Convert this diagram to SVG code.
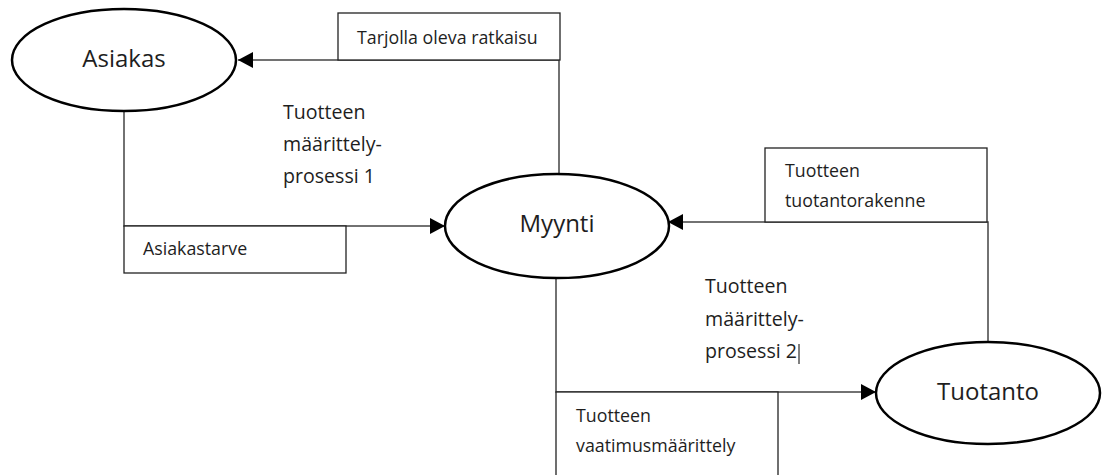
<svg xmlns="http://www.w3.org/2000/svg" width="1106" height="475" viewBox="0 0 1106 475">
  <defs>
    <marker id="arrow" markerUnits="userSpaceOnUse" markerWidth="15" markerHeight="16" refX="15" refY="8" orient="auto">
      <path d="M0,0 L15,8 L0,16 z" fill="#000"/>
    </marker>
    <style>
      .node { fill: #fff; stroke: #000; stroke-width: 2.5; }
      .box { fill: #fff; stroke: #222; stroke-width: 1.3; }
      .conn { fill: none; stroke: #444; stroke-width: 1.5; }
      .nlabel { font-family: "Open Sans", "Liberation Sans", sans-serif; font-size: 24px; fill: #1e1e1e; text-anchor: middle; }
      .blabel { font-family: "Open Sans", "Liberation Sans", sans-serif; font-size: 17.8px; fill: #1e1e1e; }
      .mlabel { font-family: "Open Sans", "Liberation Sans", sans-serif; font-size: 19.6px; fill: #1e1e1e; }
    </style>
  </defs>
  <rect width="1106" height="475" fill="#fff"/>

  <g id="connectors">
    <polyline class="conn" points="559,174 559,60 238,60" marker-end="url(#arrow)"/>
    <polyline class="conn" points="124,111 124,226 445,226" marker-end="url(#arrow)"/>
    <polyline class="conn" points="988,342 988,222 668,222" marker-end="url(#arrow)"/>
    <polyline class="conn" points="556,277 556,392 876,392" marker-end="url(#arrow)"/>
  </g>

  <g id="label-tarjolla">
    <rect class="box" x="338" y="13" width="222" height="47"/>
    <text class="blabel" x="357" y="44">Tarjolla oleva ratkaisu</text>
  </g>
  <g id="label-asiakastarve">
    <rect class="box" x="124" y="226" width="222" height="47"/>
    <text class="blabel" x="143" y="255">Asiakastarve</text>
  </g>
  <g id="label-tuotantorakenne">
    <rect class="box" x="765" y="148" width="222" height="74"/>
    <text class="blabel" x="785" y="177">Tuotteen</text>
    <text class="blabel" x="785" y="207">tuotantorakenne</text>
  </g>
  <g id="label-vaatimusmaarittely">
    <rect class="box" x="556" y="392" width="222" height="100"/>
    <text class="blabel" x="576" y="422">Tuotteen</text>
    <text class="blabel" x="576" y="452">vaatimusmäärittely</text>
  </g>

  <g id="node-asiakas">
    <ellipse class="node" cx="124" cy="60" rx="112" ry="51"/>
    <text class="nlabel" x="124" y="67">Asiakas</text>
  </g>
  <g id="node-myynti">
    <ellipse class="node" cx="557" cy="226" rx="112" ry="52"/>
    <text class="nlabel" x="557" y="232">Myynti</text>
  </g>
  <g id="node-tuotanto">
    <ellipse class="node" cx="988" cy="393" rx="112" ry="51"/>
    <text class="nlabel" x="988" y="400">Tuotanto</text>
  </g>

  <g id="process-1">
    <text class="mlabel" x="283" y="119">Tuotteen</text>
    <text class="mlabel" x="283" y="151">määrittely-</text>
    <text class="mlabel" x="283" y="183">prosessi 1</text>
  </g>
  <g id="process-2">
    <text class="mlabel" x="705" y="293">Tuotteen</text>
    <text class="mlabel" x="705" y="326">määrittely-</text>
    <text class="mlabel" x="705" y="358">prosessi 2</text>
    <line x1="799" y1="344" x2="799" y2="364" stroke="#000" stroke-width="1"/>
  </g>
</svg>
